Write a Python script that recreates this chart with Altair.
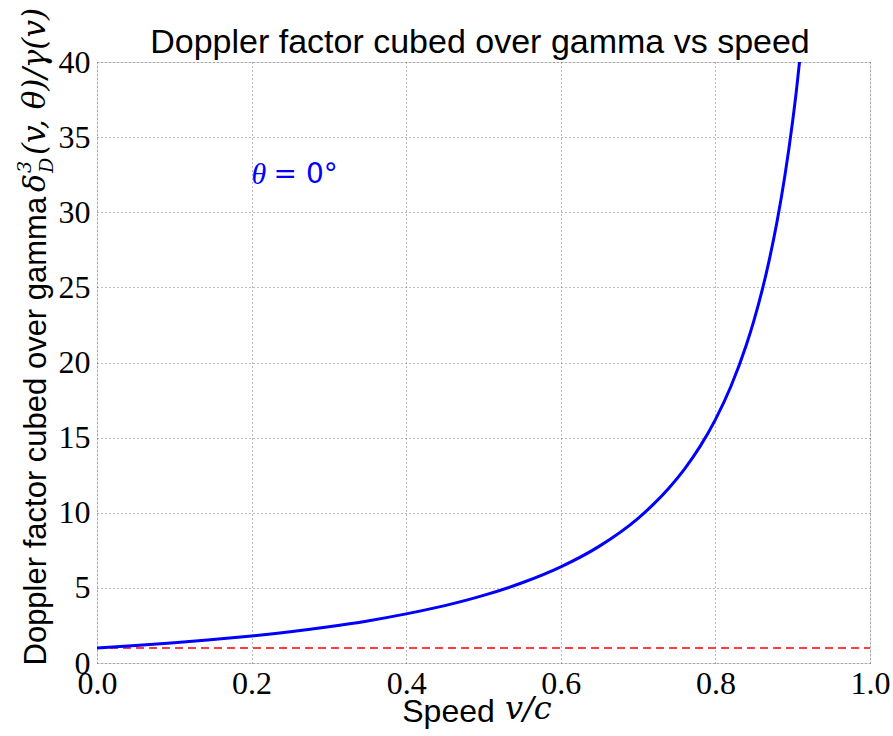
import altair as alt
import pandas as pd

# speed v/c and value of delta^3/gamma
speed = [0.0, 0.05, 0.1, 0.15, 0.2, 0.25, 0.3, 0.35, 0.4, 0.45, 0.5, 0.55, 0.6,
         0.65, 0.7, 0.72, 0.74, 0.76, 0.78, 0.8, 0.82, 0.84, 0.85, 0.86, 0.87,
         0.88, 0.89, 0.9, 0.905, 0.908, 0.91]
ratio = [1.0, 1.16, 1.34, 1.56, 1.8, 2.08, 2.41, 2.8, 3.27, 3.82, 4.5, 5.34, 6.4,
         7.78, 9.63, 10.57, 11.65, 12.91, 14.4, 16.2, 18.4, 21.16, 22.82, 24.71, 26.9,
         29.45, 32.47, 36.1, 38.2, 39.62, 40.53]
ref_speed = [0.0, 1.0]
ref_value = [1.0, 1.0]
label_x = [0.2]
label_y = [32.5]
x_ticks = [0, 0.2, 0.4, 0.6, 0.8, 1.0]
y_ticks = [0, 5, 10, 15, 20, 25, 30, 35, 40]
title_text = "Doppler factor cubed over gamma vs speed"

curve = pd.DataFrame({"v": speed, "f": ratio})
ref = pd.DataFrame({"v": ref_speed, "f": ref_value})
lab = pd.DataFrame({"v": label_x, "f": label_y})

x_scale = alt.Scale(domain=[0, 1], nice=False, zero=False)
y_scale = alt.Scale(domain=[0, 40], nice=False)

grid_kw = dict(grid=True, gridColor="#555555", gridDash=[1, 3], gridWidth=0.8,
               domain=False, ticks=False, labelFlush=False,
               labelFont="Liberation Serif", labelFontSize=32, labelColor="black",
               titleFont="Liberation Sans", titleFontWeight="normal", titleColor="black")

x_axis = alt.Axis(title="Speed", values=x_ticks, format=".1f", labelPadding=5,
                  titleFontSize=32, titleX=351, titleY=58, titleBaseline="alphabetic",
                  titleAlign="center", **grid_kw)
y_axis = alt.Axis(title="Doppler factor cubed over gamma", values=y_ticks, labelPadding=7,
                  titleFontSize=31, titleAnchor="start", titleX=-61, titleY=603,
                  titleAlign="left", titleBaseline="middle", titleAngle=270, **grid_kw)

line = alt.Chart(curve).mark_line(color="#0000ff", strokeWidth=3, clip=True,
                                  interpolate="monotone").encode(
    x=alt.X("v:Q", scale=x_scale, axis=x_axis),
    y=alt.Y("f:Q", scale=y_scale, axis=y_axis),
)
dashed = alt.Chart(ref).mark_line(color="#ff0000", strokeWidth=1.6, strokeDash=[8, 5]).encode(
    x=alt.X("v:Q", scale=x_scale),
    y=alt.Y("f:Q", scale=y_scale),
)

# annotation theta = 0 degrees
theta = alt.Chart(lab).mark_text(color="#0000ff", fontSize=30, font="Liberation Serif",
                                 fontStyle="italic", align="left", baseline="middle").encode(
    x=alt.X("v:Q", scale=x_scale), y=alt.Y("f:Q", scale=y_scale), text=alt.value("θ"))
theta_rest = alt.Chart(lab).mark_text(color="#0000ff", fontSize=28, font="DejaVu Sans",
                                      align="left", baseline="middle", dx=22).encode(
    x=alt.X("v:Q", scale=x_scale), y=alt.Y("f:Q", scale=y_scale), text=alt.value("= 0°"))

# chart title
title = alt.Chart(lab).mark_text(font="Liberation Sans", fontSize=34, color="black",
                                 align="center", baseline="alphabetic").encode(
    x=alt.value(383), y=alt.value(-9), text=alt.value(title_text))

# math parts of the axis titles
def math(txt, x, y, size=30, angle=0, align="left"):
    kw = dict(fontSize=size, font="DejaVu Serif", fontStyle="italic", color="black",
              align=align, baseline="middle")
    if angle:
        kw["angle"] = angle
    return alt.Chart(lab).mark_text(**kw).encode(
        x=alt.value(x), y=alt.value(y), text=alt.value(txt))

x_math = math("v/c", 408, 647, size=32)
y_delta = math("δ", -61, 130, size=30, angle=270)
y_sup = math("3", -72, 111, size=19, angle=270)
y_sub = math("D", -50, 111, size=19, angle=270)
y_rest = math("(v, θ)/γ(v)", -61, 93, size=31, angle=270)

chart = alt.layer(dashed, line, theta, theta_rest, title, x_math,
                  y_delta, y_sup, y_sub, y_rest).properties(
    width=773, height=601,
    autosize=alt.AutoSizeParams(type="none"),
    padding={"left": 97, "top": 62, "right": 23, "bottom": 73},
).configure_view(stroke="black", strokeWidth=1.3).configure(background="white")

chart.save("out.html", embed_options={"renderer": "svg", "actions": False})
